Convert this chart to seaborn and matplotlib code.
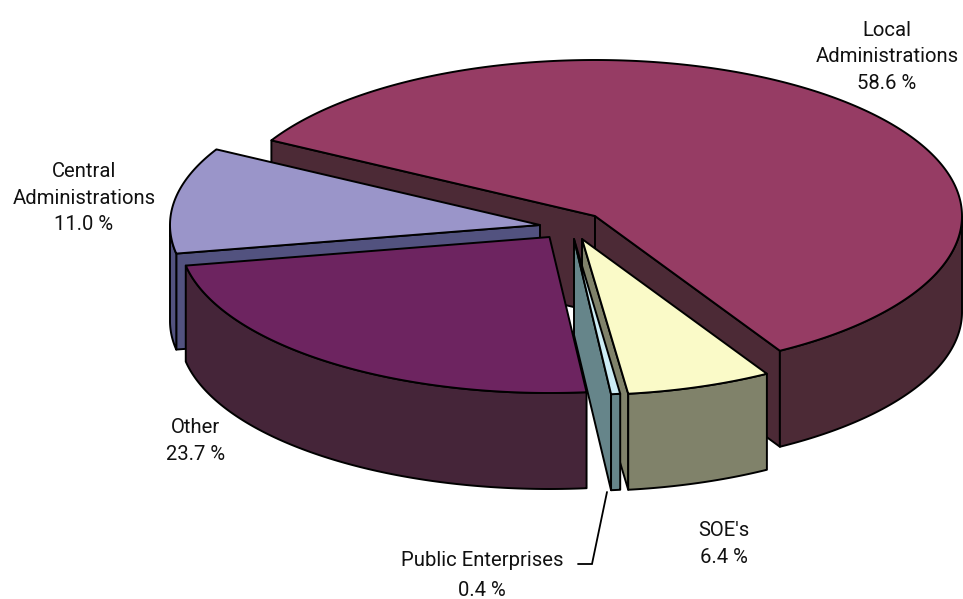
import numpy as np
import seaborn as sns
import matplotlib
matplotlib.use("Agg")
import matplotlib.pyplot as plt
from matplotlib.patches import Polygon

categories = ["Local\nAdministrations", "SOE's", "Public Enterprises", "Other", "Central\nAdministrations"]
shares = [58.6, 6.4, 0.4, 23.7, 11.0]

top_colors = ["#963c64", "#fafac8", "#ccecf5", "#6d2460", "#9a95c9"]
wall_colors = ["#4c2a36", "#80826a", "#66858a", "#452539", "#52527f"]

# where the point of each exploded slice sits, in pixels
apex = [(595, 216), (582, 239), (574, 239), (549.5, 237), (540, 225)]
label_pos = [(887, 57), (724, 544), (482, 561), (196, 441), (84, 198)]
draw_order = [0, 4, 1, 2, 3]

start_angle = 151
depth = 96
line_w = 1.4

sns.set_theme(style="white")
plt.rcParams["font.family"] = ["Roboto", "DejaVu Sans"]


def rim(t_deg):
    # oblique view of the pie: points on the rim relative to the slice point
    t = np.radians(t_deg)
    c = np.cos(t)
    return c * np.where(c > 0, 367, 370), -156 * np.sin(t)


def wall_visible(a, outer, mid):
    dx = outer[0] - a[0]
    if dx == 0:
        return False
    line_y = a[1] + (mid[0] - a[0]) * (outer[1] - a[1]) / dx
    return mid[1] < line_y


fig = plt.figure(figsize=(9.63, 5.99), dpi=100)
ax = fig.add_axes([0, 0, 1, 1])
ax.set_xlim(0, 963)
ax.set_ylim(599, 0)
ax.axis("off")

edges = start_angle - np.concatenate([[0], np.cumsum(shares)]) * 360 / sum(shares)


def add_poly(pts, color):
    ax.add_patch(Polygon(pts, closed=True, facecolor=color, edgecolor="black",
                         linewidth=line_w, joinstyle="round"))


for i in draw_order:
    t = np.linspace(edges[i], edges[i + 1], 500)
    rx, ry = rim(t)
    px = apex[i][0] + rx
    py = apex[i][1] + ry
    a = apex[i]
    mx, my = rim(np.array([(edges[i] + edges[i + 1]) / 2]))
    mid = (a[0] + mx[0], a[1] + my[0])

    # cut faces
    for k in [0, -1]:
        outer = (px[k], py[k])
        if wall_visible(a, outer, mid):
            add_poly([a, outer, (outer[0], outer[1] + depth), (a[0], a[1] + depth)], wall_colors[i])

    # outer wall, only the part facing the viewer
    front = np.sin(np.radians(t)) <= 0
    if front.any():
        fx, fy = px[front], py[front]
        add_poly(np.column_stack([np.r_[fx, fx[::-1]], np.r_[fy, fy[::-1] + depth]]), wall_colors[i])

    # top
    add_poly(np.column_stack([np.r_[a[0], px], np.r_[a[1], py]]), top_colors[i])

# leader line of the thin slice
ax.plot([607, 592, 578], [492, 564, 564], color="black", lw=1.3, solid_joinstyle="miter")

for name, value, pos in zip(categories, shares, label_pos):
    if name == "Public Enterprises":
        ax.text(pos[0], pos[1], name, ha="center", va="center", fontsize=14.6, color="#111111")
        ax.text(pos[0], pos[1] + 29, f"{value:.1f} %", ha="center", va="center", fontsize=14.6, color="#111111")
    else:
        ax.text(pos[0], pos[1], f"{name}\n{value:.1f} %", ha="center", va="center",
                fontsize=14.6, color="#111111", linespacing=1.52)

fig.savefig("out.png", dpi=100)
